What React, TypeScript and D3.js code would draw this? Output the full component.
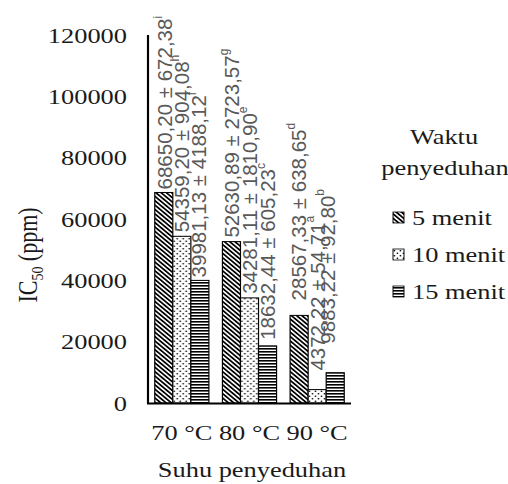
import React from "react";
import * as d3 from "d3";

const categories = ["70 °C", "80 °C", "90 °C"];
const seriesNames = ["5 menit", "10 menit", "15 menit"];
const means5 = [68650.2, 52630.89, 28567.33];
const sd5 = [672.38, 2723.57, 638.65];
const letters5 = ["i", "g", "d"];
const means10 = [54359.2, 34281.11, 4372.22];
const sd10 = [904.08, 1810.9, 54.71];
const letters10 = ["h", "e", "a"];
const means15 = [39981.13, 18632.44, 9883.22];
const sd15 = [4188.12, 605.23, 92.8];
const letters15 = ["f", "c", "b"];
const yTickValues = [0, 20000, 40000, 60000, 80000, 100000, 120000];

// layout constants (original pixel units)
const SX = 1.2;
const WIDTH = 508;
const HEIGHT = 484;
const VBW = WIDTH / SX;
const X = (v: number) => v / SX;
// label nudges per series/category: [dx, gap]
const labelNudge = [
  [[1, 3], [0, 4], [-1, 15]],
  [[0, 4], [0, 4], [0, 19]],
  [[-1, 3], [0, 6], [-8, 29]],
];

const serif = "'Liberation Serif', 'Times New Roman', Times, serif";
const sans = "'Liberation Sans', Arial, sans-serif";
const patternIds = ["pDiag", "pDots", "pLines"];

const fmt = (v: number) => v.toFixed(2).replace(".", ",");

export default function App() {
  const values = [means5, means10, means15];
  const sds = [sd5, sd10, sd15];
  const letters = [letters5, letters10, letters15];

  const y = d3.scaleLinear().domain([0, 120000]).range([403, 35]);
  const x0 = d3
    .scaleBand<string>()
    .domain(categories)
    .range([X(148), X(351)])
    .paddingInner(0.2)
    .paddingOuter(0.1);
  const x1 = d3
    .scaleBand<string>()
    .domain(seriesNames)
    .range([0, x0.bandwidth()])
    .padding(0);

  const textColor = "#1a1a1a";

  return (
    <svg
      width={WIDTH}
      height={HEIGHT}
      viewBox={`0 0 ${VBW} ${HEIGHT}`}
      preserveAspectRatio="none"
      style={{ position: "absolute", left: 0, top: 0, background: "#fff" }}
    >
      <defs>
        <pattern id="pDiag" patternUnits="userSpaceOnUse" width={3.1} height={3.1} patternTransform="rotate(-45)">
          <rect width={3.1} height={3.1} fill="#fff" />
          <rect width={1.6} height={3.1} fill="#000" />
        </pattern>
        <pattern id="pDots" patternUnits="userSpaceOnUse" width={5} height={5}>
          <rect width={5} height={5} fill="#fff" />
          <circle cx={1.2} cy={1.2} r={0.75} fill="#000" />
          <circle cx={3.7} cy={3.7} r={0.75} fill="#000" />
        </pattern>
        <pattern id="pLines" patternUnits="userSpaceOnUse" width={4} height={3}>
          <rect width={4} height={3} fill="#fff" />
          <rect width={4} height={1.6} fill="#000" />
        </pattern>
      </defs>

      {/* bars */}
      {categories.map((c, ci) => (
        <g key={c} transform={`translate(${x0(c)},0)`}>
          {seriesNames.map((s, si) => {
            const v = values[si][ci];
            return (
              <rect
                key={s}
                x={x1(s)}
                y={y(v)}
                width={x1.bandwidth()}
                height={y(0) - y(v)}
                fill={`url(#${patternIds[si]})`}
                stroke="#000"
                strokeWidth={1}
              />
            );
          })}
        </g>
      ))}

      {/* annotations */}
      {categories.map((c, ci) =>
        seriesNames.map((s, si) => {
          const v = values[si][ci];
          const [dx, gap] = labelNudge[si][ci];
          const cx = (x0(c) as number) + (x1(s) as number) + x1.bandwidth() / 2 + X(dx);
          const cy = y(v) - gap;
          return (
            <text
              key={`${c}-${s}`}
              transform={`translate(${cx},${cy}) scale(${1 / SX},1) rotate(-90)`}
              fontFamily={sans}
              fontSize={20.5}
              fill="#595959"
              dominantBaseline="central"
            >
              {`${fmt(v)} ± ${fmt(sds[si][ci])}`}
              <tspan fontSize={12} dy={-7}>
                {letters[si][ci]}
              </tspan>
            </text>
          );
        })
      )}

      {/* axes */}
      <line x1={X(148)} x2={X(148)} y1={35} y2={403.5} stroke="#000" strokeWidth={1.8} />
      <line x1={X(147)} x2={X(351)} y1={403.5} y2={403.5} stroke="#000" strokeWidth={2} />

      {yTickValues.map((t) => (
        <text
          key={t}
          x={X(127)}
          y={y(t)}
          dy="0.35em"
          textAnchor="end"
          fontFamily={serif}
          fontSize={22}
          fill={textColor}
        >
          {d3.format("d")(t)}
        </text>
      ))}

      {categories.map((c) => (
        <text
          key={c}
          x={(x0(c) as number) + x0.bandwidth() / 2}
          y={440}
          textAnchor="middle"
          fontFamily={serif}
          fontSize={22}
          fill={textColor}
        >
          {c}
        </text>
      ))}

      <text x={X(252)} y={477} textAnchor="middle" fontFamily={serif} fontSize={22} fill={textColor}>
        Suhu penyeduhan
      </text>

      <text
        transform={`translate(${X(37)},255) rotate(-90)`}
        textAnchor="middle"
        fontFamily={serif}
        fontSize={22}
        fill={textColor}
      >
        IC
        <tspan fontSize={14} dy={5}>
          50
        </tspan>
        <tspan dy={-5}> (ppm)</tspan>
      </text>

      {/* legend */}
      <text x={X(444)} y={144} textAnchor="middle" fontFamily={serif} fontSize={22} fill={textColor}>
        Waktu
      </text>
      <text x={X(445)} y={175} textAnchor="middle" fontFamily={serif} fontSize={22} fill={textColor}>
        penyeduhan
      </text>
      {seriesNames.map((s, si) => (
        <g key={s} transform={`translate(0,${225 + si * 37})`}>
          <rect
            x={X(393)}
            y={-13}
            width={X(11)}
            height={11}
            fill={`url(#${patternIds[si]})`}
            stroke="#000"
            strokeWidth={0.8}
          />
          <text x={X(412)} y={0} fontFamily={serif} fontSize={22} fill={textColor}>
            {s}
          </text>
        </g>
      ))}
    </svg>
  );
}
